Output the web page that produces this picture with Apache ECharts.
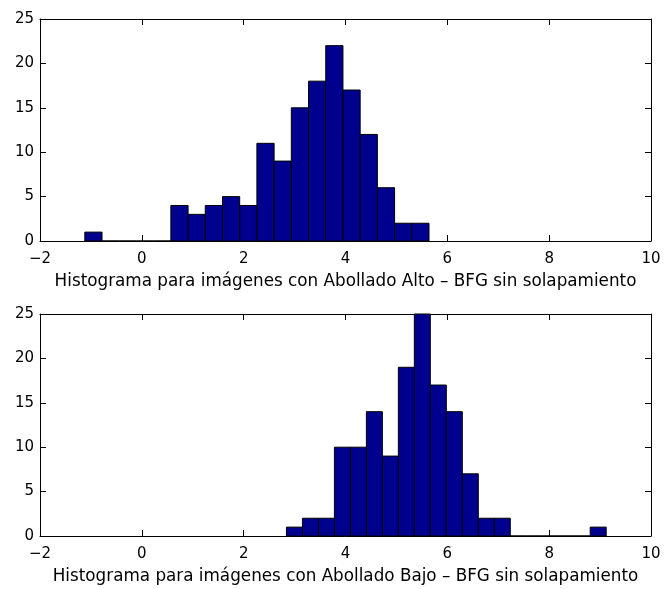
<!DOCTYPE html>
<html>
<head>
<meta charset="utf-8">
<script src="https://cdn.jsdelivr.net/npm/echarts@6/dist/echarts.min.js"></script>
<style>
html,body{margin:0;padding:0;background:#fff;}
#chart{width:664px;height:589px;}
</style>
</head>
<body>
<div id="chart"></div>
<script>
// Top histogram: bin edges (21) and counts (20)
var topEdges = [-1.12, -0.782, -0.444, -0.106, 0.232, 0.57, 0.908, 1.246, 1.584, 1.922, 2.26,
                2.598, 2.936, 3.274, 3.612, 3.95, 4.288, 4.626, 4.964, 5.302, 5.64];
var topCounts = [1, 0, 0, 0, 0, 4, 3, 4, 5, 4, 11, 9, 15, 18, 22, 17, 12, 6, 2, 2];
var topLabel = 'Histograma para imágenes con Abollado Alto – BFG sin solapamiento';

// Bottom histogram
var bottomEdges = [2.84, 3.154, 3.468, 3.782, 4.096, 4.41, 4.724, 5.038, 5.352, 5.666, 5.98,
                   6.294, 6.608, 6.922, 7.236, 7.55, 7.864, 8.178, 8.492, 8.806, 9.12];
var bottomCounts = [1, 2, 2, 10, 10, 14, 9, 19, 25, 17, 14, 7, 2, 2, 0, 0, 0, 0, 0, 1];
var bottomLabel = 'Histograma para imágenes con Abollado Bajo – BFG sin solapamiento';

var xTicks = [-2, 0, 2, 4, 6, 8, 10];
var yTicks = [0, 5, 10, 15, 20, 25];

function toBins(edges, counts) {
  var out = [];
  for (var i = 0; i < counts.length; i++) {
    out.push([edges[i], edges[i + 1], counts[i]]);
  }
  return out;
}

var FONT = 'DejaVu Sans';
var FS = 15;
var NAME_FS = 16.8;
function fmt(v) { return String(v).replace('-', '\u2212'); }

var grids = [
  {left: 40, right: 13, top: 19, bottom: 348},
  {left: 40, right: 13, top: 314, bottom: 53}
];

var xAxes = [], yAxes = [], series = [];
[[topLabel, topEdges, topCounts], [bottomLabel, bottomEdges, bottomCounts]].forEach(function (p, gi) {
  var common = {
    gridIndex: gi, type: 'value', min: xTicks[0], max: xTicks[xTicks.length - 1], interval: 2,
    axisLine: {show: true, onZero: false, lineStyle: {color: '#000', width: 1}},
    axisTick: {show: true, inside: true, length: 6, lineStyle: {color: '#000'}},
    splitLine: {show: false}
  };
  xAxes.push(Object.assign({}, common, {
    position: 'bottom',
    name: p[0], nameLocation: 'middle', nameGap: 32,
    nameTextStyle: {fontFamily: FONT, fontSize: NAME_FS, color: '#000'},
    axisLabel: {fontFamily: FONT, fontSize: FS, color: '#000', margin: 11, formatter: fmt}
  }));
  xAxes.push(Object.assign({}, common, {position: 'top', axisLabel: {show: false}}));
  var ycommon = {
    gridIndex: gi, type: 'value', min: yTicks[0], max: yTicks[yTicks.length - 1], interval: 5,
    axisLine: {show: true, onZero: false, lineStyle: {color: '#000', width: 1}},
    axisTick: {show: true, inside: true, length: 6, lineStyle: {color: '#000'}},
    splitLine: {show: false}
  };
  yAxes.push(Object.assign({}, ycommon, {
    position: 'left',
    axisLabel: {fontFamily: FONT, fontSize: FS, color: '#000', margin: 6, formatter: fmt}
  }));
  yAxes.push(Object.assign({}, ycommon, {position: 'right', axisLabel: {show: false}}));

  series.push({
    type: 'custom',
    xAxisIndex: gi * 2, yAxisIndex: gi * 2,
    data: toBins(p[1], p[2]),
    encode: {x: [0, 1], y: 2},
    renderItem: function (params, api) {
      var a = api.coord([api.value(0), api.value(2)]);
      var b = api.coord([api.value(1), 0]);
      return {
        type: 'rect',
        shape: {x: a[0], y: a[1], width: b[0] - a[0], height: b[1] - a[1]},
        style: {fill: '#00008F', stroke: '#000', lineWidth: 1}
      };
    },
    z: 1
  });
});

var chart = echarts.init(document.getElementById('chart'), null, {renderer: 'canvas'});
chart.setOption({
  animation: false,
  backgroundColor: '#fff',
  grid: grids,
  xAxis: xAxes,
  yAxis: yAxes,
  series: series
});
</script>
</body>
</html>
